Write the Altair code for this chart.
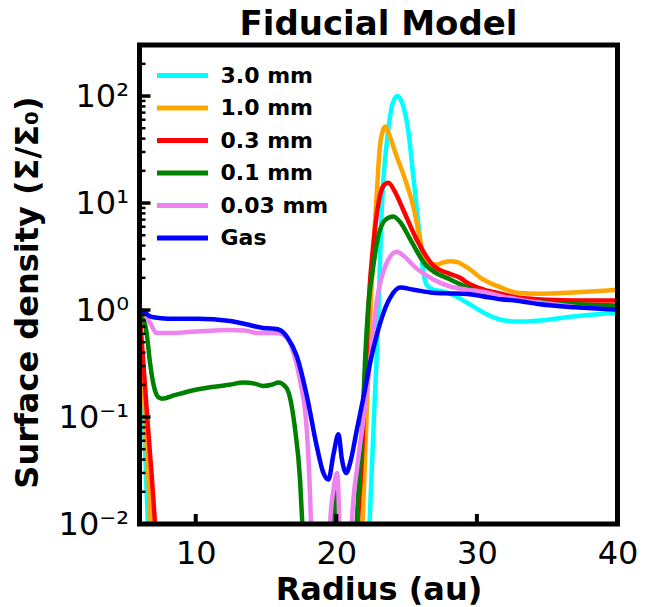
import altair as alt
import pandas as pd

chart_title = "Fiducial Model"
series_names = ["3.0 mm", "1.0 mm", "0.3 mm", "0.1 mm", "0.03 mm", "Gas"]
series_colors = ["#00FFFF", "#FFA500", "#FF0000", "#008000", "#EE82EE", "#0000FF"]

x_30 = [6.0, 6.3, 6.6, 6.9, 22.0, 22.36, 22.68, 23.0, 23.19, 23.35, 23.7, 24.0, 24.35, 24.7, 25.1, 25.5, 25.73, 25.96, 26.1, 26.45, 26.9, 27.5, 28.1, 28.7, 29.3, 30.45, 31.7, 32.8, 34.5, 36.8, 40.0]
y_30 = [1.0, 0.1, 0.01, 0.001, 0.001, 0.01, 0.1, 1.0, 6.5, 16.5, 49, 85, 100, 85, 49, 16.5, 8.7, 4.5, 2.8, 1.7, 1.55, 1.5, 1.42, 1.3, 1.17, 0.95, 0.81, 0.78, 0.8, 0.87, 0.95]

x_10 = [6.0, 6.4, 6.8, 7.1, 21.5, 21.86, 22.15, 22.4, 22.65, 22.88, 23.1, 23.3, 23.5, 23.75, 24.2, 24.9, 25.5, 25.9, 26.2, 26.6, 27.15, 27.6, 28.1, 28.6, 29.3, 30.45, 31.7, 32.85, 34.5, 36.8, 40.0]
y_10 = [1.0, 0.1, 0.01, 0.002, 0.002, 0.01, 0.1, 0.8, 4.0, 12.5, 34, 47, 52, 44, 29.5, 16.5, 9.0, 5.0, 3.3, 2.75, 2.66, 2.78, 2.86, 2.8, 2.5, 1.93, 1.63, 1.45, 1.42, 1.46, 1.55]

x_03 = [6.0, 6.55, 7.1, 7.5, 21.2, 21.53, 21.85, 22.1, 22.35, 22.64, 23.0, 23.35, 23.7, 24.2, 24.75, 25.7, 26.9, 28.0, 28.8, 29.3, 30.5, 31.7, 32.85, 35.0, 37.0, 40.0]
y_03 = [1.0, 0.1, 0.01, 0.001, 0.001, 0.01, 0.05, 0.3, 1.5, 4.2, 10, 14.5, 15.5, 12.5, 8.7, 4.6, 2.6, 2.2, 2.0, 1.8, 1.55, 1.42, 1.31, 1.25, 1.23, 1.23]

x_01 = [6.0, 6.5, 6.75, 7.0, 7.3, 7.6, 8.5, 10.0, 12.4, 13.4, 14.2, 14.8, 15.4, 15.9, 16.25, 16.6, 17.07, 17.42, 17.6, 17.8, 19.75, 19.88, 20.0, 21.1, 21.45, 21.8, 22.05, 22.3, 22.53, 23.0, 23.5, 24.05, 24.6, 25.25, 26.4, 26.9, 28.1, 29.3, 31.7, 32.85, 35.0, 37.0, 40.0]
y_01 = [1.0, 0.62, 0.32, 0.2, 0.155, 0.148, 0.16, 0.18, 0.2, 0.21, 0.205, 0.195, 0.2, 0.21, 0.2, 0.17, 0.076, 0.026, 0.009, 0.002, 0.0005, 0.02, 0.0005, 0.0005, 0.01, 0.06, 0.35, 1.2, 2.07, 5.0, 7.0, 7.5, 6.5, 4.6, 2.6, 2.3, 1.93, 1.63, 1.31, 1.24, 1.17, 1.13, 1.1]

x_003 = [6.0, 6.35, 6.75, 7.22, 8.0, 10.1, 12.4, 13.5, 14.34, 15.8, 16.5, 16.95, 17.42, 17.9, 18.2, 18.4, 19.4, 19.56, 19.8, 20.06, 20.22, 20.4, 20.9, 21.1, 21.5, 21.93, 22.4, 22.9, 23.5, 24.3, 24.8, 25.7, 26.9, 28.1, 29.3, 30.45, 31.7, 33.0, 35.0, 37.0, 40.0]
y_003 = [1.0, 0.92, 0.76, 0.61, 0.61, 0.63, 0.65, 0.645, 0.61, 0.61, 0.55, 0.40, 0.22, 0.076, 0.01, 0.001, 0.001, 0.01, 0.021, 0.03, 0.01, 0.001, 0.001, 0.01, 0.035, 0.096, 0.32, 1.26, 2.6, 3.5, 3.2, 2.45, 1.93, 1.66, 1.55, 1.48, 1.35, 1.25, 1.15, 1.07, 1.0]

x_gas = [6.0, 6.27, 6.7, 7.1, 8.0, 10.07, 12.44, 13.5, 14.8, 15.5, 16.0, 16.5, 17.19, 17.9, 18.6, 19.08, 19.44, 19.8, 20.15, 20.4, 20.7, 21.0, 21.46, 22.0, 22.4, 22.9, 23.35, 23.9, 24.54, 25.5, 26.9, 28.1, 29.3, 30.45, 31.7, 32.85, 34.5, 37.0, 40.0]
y_gas = [1.0, 0.97, 0.88, 0.85, 0.83, 0.83, 0.79, 0.74, 0.68, 0.67, 0.65, 0.56, 0.37, 0.158, 0.054, 0.030, 0.026, 0.045, 0.069, 0.04, 0.030, 0.038, 0.076, 0.17, 0.32, 0.6, 0.94, 1.35, 1.62, 1.55, 1.45, 1.43, 1.41, 1.34, 1.26, 1.22, 1.13, 1.06, 1.01]

x_major_ticks = [10, 20, 30, 40]
y_major_ticks = [0.01, 0.1, 1, 10, 100]
y_minor_ticks = [m * 10.0 ** k for k in range(-2, 2) for m in range(2, 10)] + [200, 300]

rows = []
for name, xs, ys in zip(series_names,
                        [x_30, x_10, x_03, x_01, x_003, x_gas],
                        [y_30, y_10, y_03, y_01, y_003, y_gas]):
    for xv, yv in zip(xs, ys):
        rows.append({"series": name, "x": xv, "y": yv})
df = pd.DataFrame(rows)

W, H = 478, 479
FONT = "DejaVu Sans"

xscale = alt.Scale(domain=[6, 40], nice=False, zero=False)
yscale = alt.Scale(type="log", domain=[0.01, 300], nice=False)

label_expr = ("'10' + (round(log(datum.value)/LN10) == 2 ? '\u00b2' : "
              "round(log(datum.value)/LN10) == 1 ? '\u00b9' : "
              "round(log(datum.value)/LN10) == 0 ? '\u2070' : "
              "round(log(datum.value)/LN10) == -1 ? '\u207b\u00b9' : '\u207b\u00b2')")

xaxis = alt.Axis(values=x_major_ticks, ticks=False, tickSize=0, domain=False, grid=False,
                 labelFontSize=32, labelFont=FONT, labelColor="black", labelPadding=14,
                 labelFlush=False, labelOverlap=False,
                 title="Radius (au)", titleFont=FONT, titleFontSize=32, titleFontWeight="bold",
                 titleColor="black", titleX=W / 2, titleY=75, titleBaseline="alphabetic",
                 titleAlign="center")
yaxis = alt.Axis(values=y_major_ticks, ticks=False, tickSize=0, domain=False, grid=False,
                 labelFontSize=32, labelFont=FONT, labelColor="black", labelPadding=11,
                 labelFlush=False, labelOverlap=False, labelExpr=label_expr,
                 labelBaseline="middle",
                 title="Surface density (\u03a3/\u03a3\u2080)", titleFont=FONT, titleFontSize=32,
                 titleFontWeight="bold", titleColor="black", titleAngle=270,
                 titleX=-102, titleY=247, titleBaseline="alphabetic", titleAlign="center")

# legend symbol: a horizontal stroke longer than the symbol box, so rows stay compact
SYM = 21
half_len = 25.5 / (SYM / 2)
legend_path = "M -%.3f 0 L %.3f 0" % (half_len, half_len)

lines = alt.Chart(df).mark_line(strokeWidth=4.5, clip=True, interpolate="monotone").encode(
    x=alt.X("x:Q", scale=xscale, axis=xaxis),
    y=alt.Y("y:Q", scale=yscale, axis=yaxis),
    color=alt.Color("series:N",
                    scale=alt.Scale(domain=series_names, range=series_colors),
                    sort=series_names,
                    legend=alt.Legend(title=None, orient="none", legendX=30, legendY=17.5,
                                      symbolType=legend_path, symbolStrokeWidth=5,
                                      symbolSize=SYM * SYM,
                                      labelFontSize=22, labelFont=FONT, labelFontWeight="bold",
                                      labelColor="black", rowPadding=8.5, labelOffset=25,
                                      padding=0)),
    order=alt.Order("x:Q"),
)

ymaj = alt.Chart(pd.DataFrame({"y": y_major_ticks})).mark_rule(color="black", strokeWidth=3.5).encode(
    y=alt.Y("y:Q", scale=yscale, axis=yaxis), x=alt.value(0), x2=alt.value(11))
ymin = alt.Chart(pd.DataFrame({"y": y_minor_ticks})).mark_rule(color="black", strokeWidth=2.5).encode(
    y=alt.Y("y:Q", scale=yscale, axis=yaxis), x=alt.value(0), x2=alt.value(6))
xmaj = alt.Chart(pd.DataFrame({"x": x_major_ticks})).mark_rule(color="black", strokeWidth=4).encode(
    x=alt.X("x:Q", scale=xscale, axis=xaxis), y=alt.value(H), y2=alt.value(H - 10))
frame = alt.Chart(pd.DataFrame({"a": [0]})).mark_rect(fillOpacity=0, stroke="black", strokeWidth=5).encode(
    x=alt.value(0), x2=alt.value(W), y=alt.value(0), y2=alt.value(H))
title = alt.Chart(pd.DataFrame({"t": [chart_title]})).mark_text(
    font=FONT, fontSize=34, fontWeight="bold", color="black", align="center",
    baseline="alphabetic").encode(text="t:N", x=alt.value(W / 2), y=alt.value(-10))

chart = alt.layer(lines, ymin, ymaj, xmaj, frame, title).properties(
    width=W, height=H,
    autosize=alt.AutoSizeParams(type="none"),
    padding={"left": 131.5, "top": 37, "right": 36, "bottom": 83},
).configure_view(stroke=None)

chart.save("out.html", embed_options={"renderer": "svg", "actions": False})
